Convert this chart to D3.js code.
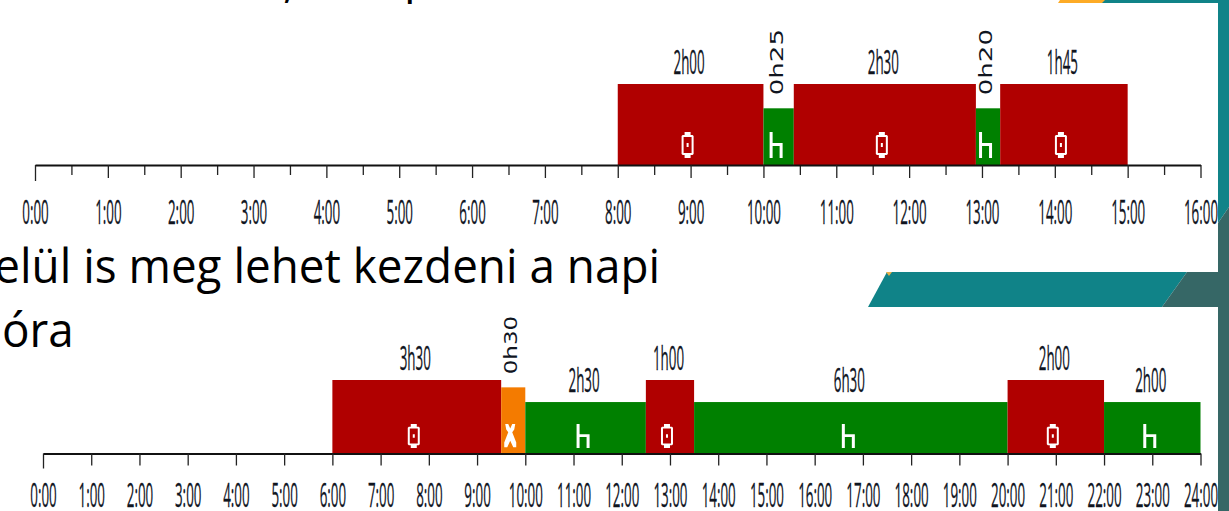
<!DOCTYPE html>
<html>
<head>
<meta charset="utf-8">
<style>
  html, body { margin: 0; padding: 0; background: #fff; overflow: hidden; }
  svg { display: block; }
  .tick-label, .bar-label { font-family: "Open Sans", sans-serif; font-size: 33px; fill: #10151f; stroke: #10151f; stroke-width: 0.3px; }
  .bar-label-v { font-family: "DejaVu Sans", sans-serif; font-size: 18px; fill: #10151f; }
  .slide-text { font-family: "Open Sans", sans-serif; font-size: 48px; fill: #000; }
</style>
<script src="https://cdn.jsdelivr.net/npm/d3@7"></script>
</head>
<body>
<div id="chart"></div>
<script>
// hours of the day, segment start / end, kind and duration label
const topHours = d3.range(0, 17);
const topHalfHours = [0.5, 1.5, 2.5, 3.5, 4.5, 5.5, 6.5, 7.5, 8.5, 9.5, 10.5, 11.5, 12.5, 13.5, 14.5, 15.5];
const topStart = [8, 10, 10 + 25 / 60, 12 + 55 / 60, 13.25];
const topEnd = [10, 10 + 25 / 60, 12 + 55 / 60, 13.25, 15];
const topKind = ['drive', 'rest', 'drive', 'rest', 'drive'];
const topLabel = ['2h00', '0h25', '2h30', '0h20', '1h45'];

const bottomHours = d3.range(0, 25);
const bottomStart = [6, 9.5, 10, 12.5, 13.5, 20, 22];
const bottomEnd = [9.5, 10, 12.5, 13.5, 20, 22, 24];
const bottomKind = ['drive', 'work', 'rest', 'drive', 'rest', 'drive', 'rest'];
const bottomLabel = ['3h30', '0h30', '2h30', '1h00', '6h30', '2h00', '2h00'];

const kindLevel = { drive: 1, work: 0.9, rest: 0.7 };
const kindColor = { drive: '#b00000', work: '#f47b00', rest: '#008000' };

const kindIcon = {
    drive: 'M-3-13h6v3h2l1 1v18l-1 1h-2v3h-6v-3h-2l-1-1v-18l1-1h2zM-4-8v16h8v-16zM-1-2h2v4h-2z',
    rest: 'M-6-13h3v11h10v15h-3v-12h-7v12h-3z',
    work: 'M-5-13h3l2 5 2-5h3l-1 6-2 3 4 11v5h-3l-3-7-3 7h-3v-5l4-11-2-3z'
};

const width = 1229, height = 511;

const svg = d3.select('#chart').append('svg')
    .attr('width', width)
    .attr('height', height);

// slide text behind the charts
svg.append('text').attr('class', 'slide-text')
    .attr('text-anchor', 'end')
    .attr('transform', 'translate(660,283) scale(0.955,1)')
    .text('elül is meg lehet kezdeni a napi');
svg.append('text').attr('class', 'slide-text')
    .attr('transform', 'translate(2,347) scale(0.955,1)')
    .text('óra');
svg.append('text').attr('class', 'slide-text')
    .attr('transform', 'translate(283,-3) scale(0.955,1)')
    .text(',');
svg.append('text').attr('class', 'slide-text')
    .attr('transform', 'translate(404,-7) scale(0.955,1)')
    .text('p');

// slide decoration
const deco = svg.append('g');
deco.append('polygon').attr('points', '868,307 887,272 1187,272 1162,307').attr('fill', '#108388');
deco.append('polygon').attr('points', '1162,307 1187,272 1218,272 1218,307').attr('fill', '#366766');
deco.append('polygon').attr('points', '886,272 892,272 889,276').attr('fill', '#e8b04a');
deco.append('polygon').attr('points', '1218,0 1229,0 1229,207 1218,223').attr('fill', '#108388');
deco.append('polygon').attr('points', '1218,223 1229,207 1229,511 1218,511').attr('fill', '#366766');
deco.append('rect').attr('x', 1100).attr('y', 0).attr('width', 129).attr('height', 3).attr('fill', '#108388');
deco.append('polygon').attr('points', '1058,3 1060,0 1105,0 1102,3').attr('fill', '#fdab26');

function drawChart(cfg) {
    const x = d3.scaleLinear().domain(cfg.domain).range(cfg.xRange);
    const y = d3.scaleLinear().domain([0, 1]).range([cfg.axisY, cfg.topY]);
    const g = svg.append('g');
    const segments = cfg.start.map((s, i) => ({
        start: s, end: cfg.end[i], kind: cfg.kind[i], label: cfg.label[i]
    }));
    const mid = d => x((d.start + d.end) / 2);
    const narrow = d => x(d.end) - x(d.start) < 40;

    g.selectAll('rect').data(segments).enter().append('rect')
        .attr('x', d => x(d.start))
        .attr('y', d => y(kindLevel[d.kind]))
        .attr('width', d => x(d.end) - x(d.start))
        .attr('height', d => y(0) - y(kindLevel[d.kind]))
        .attr('fill', d => kindColor[d.kind]);

    g.selectAll('path.icon').data(segments).enter().append('path')
        .attr('class', 'icon')
        .attr('d', d => kindIcon[d.kind])
        .attr('fill', '#fff')
        .attr('fill-rule', 'evenodd')
        .attr('transform', d => `translate(${mid(d) - 3},${cfg.axisY - cfg.iconUp}) scale(1,${cfg.iconScale})`);

    g.selectAll('text.bar-label').data(segments.filter(d => !narrow(d))).enter().append('text')
        .attr('class', 'bar-label')
        .attr('text-anchor', 'middle')
        .attr('transform', d => `translate(${mid(d) - 1.5},${y(kindLevel[d.kind]) - 10}) scale(0.405,1)`)
        .text(d => d.label);

    g.selectAll('text.bar-label-v').data(segments.filter(narrow)).enter().append('text')
        .attr('class', 'bar-label-v')
        .attr('dy', '0.36em')
        .attr('transform', d => `translate(${mid(d) - 2.5},${y(kindLevel[d.kind]) - 13}) rotate(-90) scale(${cfg.vScale},1)`)
        .text(d => d.label);

    if (cfg.minor) {
        const minorAxis = d3.axisBottom(x).tickValues(cfg.minor).tickSize(cfg.minorLen).tickFormat('');
        const minorG = g.append('g').attr('transform', `translate(0,${cfg.axisY})`).call(minorAxis);
        minorG.select('.domain').remove();
        minorG.selectAll('line').attr('stroke', '#222').attr('stroke-width', 1.3);
    }

    const axis = d3.axisBottom(x)
        .tickValues(cfg.hours)
        .tickSize(cfg.tickLen)
        .tickSizeOuter(0)
        .tickFormat(h => h + ':00');

    const axisG = g.append('g').attr('transform', `translate(0,${cfg.axisY})`).call(axis);
    axisG.select('.domain').attr('stroke', '#111').attr('stroke-width', 2);
    axisG.selectAll('.tick line').attr('stroke', '#222').attr('stroke-width', 1.3)
        .filter(h => h === 0).attr('y2', cfg.tickLen + 3);
    axisG.selectAll('.tick text')
        .attr('class', 'tick-label')
        .attr('y', cfg.labelY)
        .attr('dy', 0)
        .attr('transform', 'scale(0.405,1)');
}

drawChart({
    domain: [0, 16], xRange: [35, 1200.5], axisY: 165, topY: 84,
    start: topStart, end: topEnd, kind: topKind, label: topLabel,
    hours: topHours, minor: topHalfHours, minorLen: 10, tickLen: 13,
    labelY: 59.5, iconUp: 20, iconScale: 1, vScale: 1.45
});

drawChart({
    domain: [0, 24], xRange: [43, 1200.5], axisY: 453.5, topY: 380,
    start: bottomStart, end: bottomEnd, kind: bottomKind, label: bottomLabel,
    hours: bottomHours, minor: null, tickLen: 12,
    labelY: 53.5, iconUp: 17.5, iconScale: 0.93, vScale: 1.28
});
</script>
</body>
</html>
